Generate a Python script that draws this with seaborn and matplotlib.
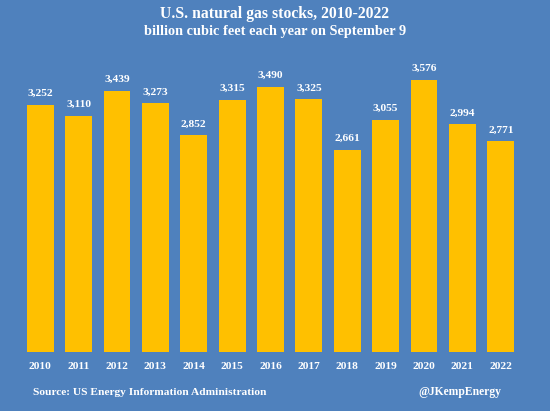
import matplotlib
matplotlib.use("Agg")
import matplotlib.pyplot as plt
import seaborn as sns
import pandas as pd

years = ["2010", "2011", "2012", "2013", "2014", "2015", "2016",
         "2017", "2018", "2019", "2020", "2021", "2022"]
stocks = [3252, 3110, 3439, 3273, 2852, 3315, 3490,
          3325, 2661, 3055, 3576, 2994, 2771]

df = pd.DataFrame({"year": years, "stocks": stocks})

BG = "#4f81bd"
BAR = "#ffc000"
FONT = ["Liberation Serif", "DejaVu Serif"]

sns.set_theme(style="white")
plt.rcParams["font.family"] = FONT

W, H = 550, 411
fig = plt.figure(figsize=(W / 100, H / 100), dpi=100, facecolor=BG)
ax = fig.add_axes([21 / W, 1 - 352 / H, 499 / W, (352 - 48) / H])
ax.set_facecolor(BG)

sns.barplot(data=df, x="year", y="stocks", color=BAR, width=0.7,
            saturation=1, ax=ax, edgecolor="none")
ax.set_xlim(-0.5, len(years) - 0.5)
ax.set_ylim(0, 4000)

for p, v in zip(ax.patches, stocks):
    ax.annotate(f"{v:,}", (p.get_x() + p.get_width() / 2, v),
                xytext=(0, 5), textcoords="offset points",
                ha="center", va="bottom", color="white",
                fontsize=8.2, fontweight="bold")

ax.set_xlabel("")
ax.set_ylabel("")
ax.set_yticks([])
ax.tick_params(axis="x", length=0, pad=7, labelsize=8.2, labelcolor="white")
for lab in ax.get_xticklabels():
    lab.set_fontweight("bold")
for s in ax.spines.values():
    s.set_visible(False)

fig.text(0.5, 1 - 14 / H, "U.S. natural gas stocks, 2010-2022",
         ha="center", va="center", color="white", fontsize=11.3,
         fontweight="bold")
fig.text(0.5, 1 - 31 / H, "billion cubic feet each year on September 9",
         ha="center", va="center", color="white", fontsize=10.3,
         fontweight="bold")
fig.text(33 / W, 1 - 392 / H, "Source: US Energy Information Administration",
         ha="left", va="center", color="white", fontsize=8.2,
         fontweight="bold")
fig.text(501 / W, 1 - 392 / H, "@JKempEnergy",
         ha="right", va="center", color="white", fontsize=8.4,
         fontweight="bold")

fig.savefig("out.png", dpi=100, facecolor=BG)
